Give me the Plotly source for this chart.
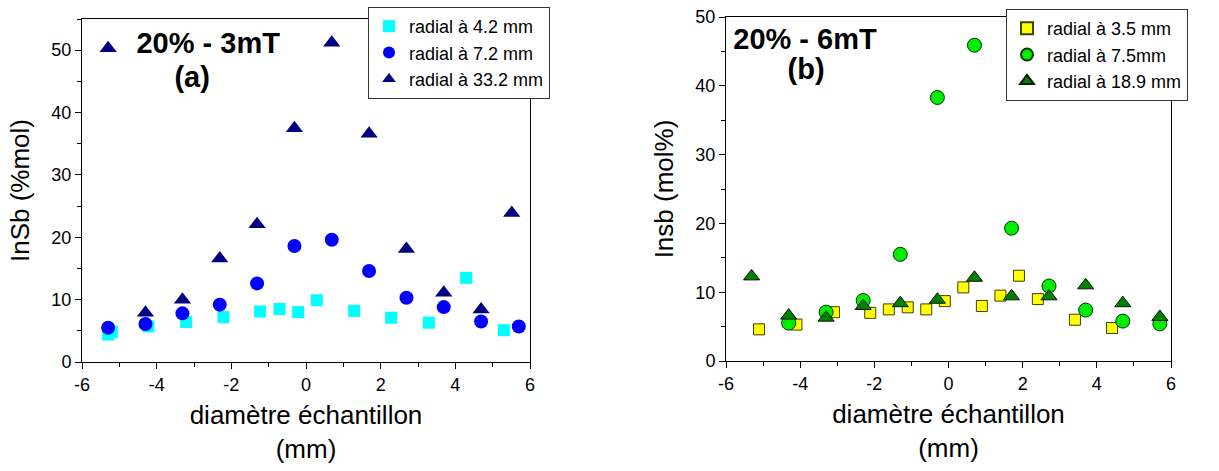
import plotly.graph_objects as go

W, H = 1219, 471
FONT = "Liberation Sans"

# ---------------- data : panel (a) 20% - 3mT ----------------
a_sq_name = "radial à 4.2 mm"
a_sq_x = [-5.3, -5.2, -4.22, -3.21, -2.21, -1.23, -0.71, -0.21, 0.29, 1.29, 2.28, 3.29, 4.29, 5.30]
a_sq_y = [4.4, 4.8, 5.7, 6.4, 7.2, 8.1, 8.5, 8.0, 9.9, 8.2, 7.1, 6.3, 13.5, 5.1]

a_ci_name = "radial à 7.2 mm"
a_ci_x = [-5.3, -4.3, -3.31, -2.31, -1.31, -0.31, 0.69, 1.69, 2.69, 3.69, 4.69, 5.70]
a_ci_y = [5.5, 6.1, 7.8, 9.2, 12.6, 18.6, 19.6, 14.6, 10.3, 8.8, 6.5, 5.7]

a_tr_name = "radial à 33.2 mm"
a_tr_x = [-5.3, -4.3, -3.31, -2.31, -1.31, -0.31, 0.69, 1.69, 2.69, 3.69, 4.69, 5.51]
a_tr_y = [50.3, 7.9, 10.0, 16.6, 22.1, 37.5, 51.2, 36.6, 18.1, 11.1, 8.4, 23.9]

# ---------------- data : panel (b) 20% - 6mT ----------------
b_sq_name = "radial à 3.5 mm"
b_sq_x = [-5.11, -4.10, -3.09, -2.11, -1.61, -1.10, -0.60, -0.10, 0.40, 0.90, 1.40, 1.90, 2.41, 3.41, 4.41]
b_sq_y = [4.6, 5.3, 7.1, 7.0, 7.5, 7.8, 7.5, 8.7, 10.7, 8.0, 9.5, 12.4, 9.0, 6.0, 4.8]

b_ci_name = "radial à 7.5mm"
b_ci_x = [-4.31, -3.30, -2.30, -1.30, -0.30, 0.70, 1.70, 2.71, 3.70, 4.70, 5.70]
b_ci_y = [5.5, 7.1, 8.8, 15.5, 38.3, 45.9, 19.3, 10.9, 7.4, 5.8, 5.4]

b_tr_name = "radial à 18.9 mm"
b_tr_x = [-5.31, -4.31, -3.30, -2.30, -1.30, -0.30, 0.70, 1.70, 2.71, 3.70, 4.70, 5.70]
b_tr_y = [12.3, 6.6, 6.3, 8.0, 8.4, 8.9, 12.1, 9.4, 9.4, 11.0, 8.4, 6.4]

# ticks
x_tick_vals = [-6, -4, -2, 0, 2, 4, 6]
x_tick_text = ["-6", "-4", "-2", "0", "2", "4", "6"]
y_tick_vals = [0, 10, 20, 30, 40, 50]
y_tick_text = ["0", "10", "20", "30", "40", "50"]

xtitle = "diamètre échantillon<br>(mm)"
ytitle_a = "InSb (%mol)"
ytitle_b = "Insb (mol%)"
# in-panel labels: text and anchor position in data units
label_a = ["<b>20% - 3mT</b>", "<b>(a)</b>"]
label_a_x = [-2.62, -3.05]
label_a_y = [50.7, 45.2]
label_b = ["<b>20% - 6mT</b>", "<b>(b)</b>"]
label_b_x = [-3.87, -3.84]
label_b_y = [46.4, 42.0]


def px(x):
    return x / W


def py(y):
    return 1 - y / H


fig = go.Figure()

# panel a traces (no outlines)
fig.add_trace(go.Scatter(x=a_sq_x, y=a_sq_y, mode="markers", xaxis="x", yaxis="y", name=a_sq_name,
                         legend="legend", marker=dict(symbol="square", size=12, color="#00FFFF")))
fig.add_trace(go.Scatter(x=a_ci_x, y=a_ci_y, mode="markers", xaxis="x", yaxis="y", name=a_ci_name,
                         legend="legend", marker=dict(symbol="circle", size=14, color="#0000FF")))
fig.add_trace(go.Scatter(x=a_tr_x, y=a_tr_y, mode="markers", xaxis="x", yaxis="y", name=a_tr_name,
                         legend="legend", marker=dict(symbol="triangle-up", size=15, color="#000080")))

# panel b traces (dark outlines)
fig.add_trace(go.Scatter(x=b_sq_x, y=b_sq_y, mode="markers", xaxis="x2", yaxis="y2", name=b_sq_name,
                         legend="legend2",
                         marker=dict(symbol="square", size=11, color="#FFFF00", line=dict(width=1, color="#404000"))))
fig.add_trace(go.Scatter(x=b_ci_x, y=b_ci_y, mode="markers", xaxis="x2", yaxis="y2", name=b_ci_name,
                         legend="legend2",
                         marker=dict(symbol="circle", size=14, color="#00EE00", line=dict(width=1, color="#003300"))))
fig.add_trace(go.Scatter(x=b_tr_x, y=b_tr_y, mode="markers", xaxis="x2", yaxis="y2", name=b_tr_name,
                         legend="legend2",
                         marker=dict(symbol="triangle-up", size=14, color="#008000", line=dict(width=1, color="#001a00"))))

# bold in-panel labels as text traces
fig.add_trace(go.Scatter(x=label_a_x, y=label_a_y, mode="text", text=label_a, xaxis="x", yaxis="y",
                         showlegend=False, cliponaxis=False,
                         textfont=dict(family=FONT, size=29, color="black")))
fig.add_trace(go.Scatter(x=label_b_x, y=label_b_y, mode="text", text=label_b, xaxis="x2", yaxis="y2",
                         showlegend=False, cliponaxis=False,
                         textfont=dict(family=FONT, size=29, color="black")))

tickfont = dict(family=FONT, size=18, color="black")
titlefont = dict(family=FONT, size=26, color="black")


def xax(domain, anchor):
    return dict(domain=domain, anchor=anchor, range=[-6, 6], tickmode="array", tickvals=x_tick_vals,
                ticktext=x_tick_text, ticks="outside", ticklen=6, tickwidth=1, tickcolor="black",
                showline=True, linecolor="black", linewidth=1, mirror=True, showgrid=False, zeroline=False,
                tickfont=tickfont, title=dict(text=xtitle, font=titlefont, standoff=12),
                minor=dict(tick0=0, dtick=1, ticks="outside", ticklen=4, tickcolor="black"))


def yax(domain, rng, anchor, title):
    return dict(domain=domain, range=rng, anchor=anchor, tickmode="array", tickvals=y_tick_vals,
                ticktext=y_tick_text, ticks="outside", ticklen=6, tickwidth=1, tickcolor="black",
                showline=True, linecolor="black", linewidth=1, mirror=True, showgrid=False, zeroline=False,
                tickfont=tickfont, title=dict(text=title, font=titlefont, standoff=14),
                minor=dict(tick0=0, dtick=5, ticks="outside", ticklen=4, tickcolor="black"))


xa_dom = [px(82), px(530)]
xb_dom = [px(726), px(1171)]
ya_dom = [py(362), py(19)]
yb_dom = [py(361), py(17)]

# frame as thin filled rectangles (domain-referenced)
shapes = []


def frame(xr, yr, wpx, hpx):
    t_w = 1.0 / wpx
    t_h = 1.0 / hpx
    common = dict(type="rect", xref=xr + " domain", yref=yr + " domain", fillcolor="black",
                  line=dict(width=0), layer="above")
    shapes.append(dict(common, x0=-t_w, x1=0, y0=-t_h, y1=1 + t_h))
    shapes.append(dict(common, x0=1, x1=1 + t_w, y0=-t_h, y1=1 + t_h))
    shapes.append(dict(common, x0=-t_w, x1=1 + t_w, y0=-t_h, y1=0))
    shapes.append(dict(common, x0=-t_w, x1=1 + t_w, y0=1, y1=1 + t_h))


frame("x", "y", 448, 343)
frame("x2", "y2", 445, 344)

legfont = dict(family=FONT, size=18, color="black")
fig.update_layout(
    width=W, height=H, template="none",
    paper_bgcolor="#ffffff", plot_bgcolor="rgba(255,255,255,0)",
    margin=dict(l=0, r=0, t=0, b=0),
    font=dict(family=FONT, color="black"),
    xaxis=xax(xa_dom, "y"),
    yaxis=yax(ya_dom, [0, 55], "x", ytitle_a),
    xaxis2=xax(xb_dom, "y2"),
    yaxis2=yax(yb_dom, [0, 50], "x2", ytitle_b),
    legend=dict(x=px(368), y=py(7), xanchor="left", yanchor="top", bgcolor="white", bordercolor="#333",
                borderwidth=1, font=legfont, itemsizing="constant"),
    legend2=dict(x=px(1006), y=py(9), xanchor="left", yanchor="top", bgcolor="white", bordercolor="#333",
                 borderwidth=1, font=legfont, itemsizing="constant"),
    shapes=shapes,
    showlegend=True,
)

fig.write_html("out.html", config={"displayModeBar": False},
               post_script="document.body.style.margin='0';")
